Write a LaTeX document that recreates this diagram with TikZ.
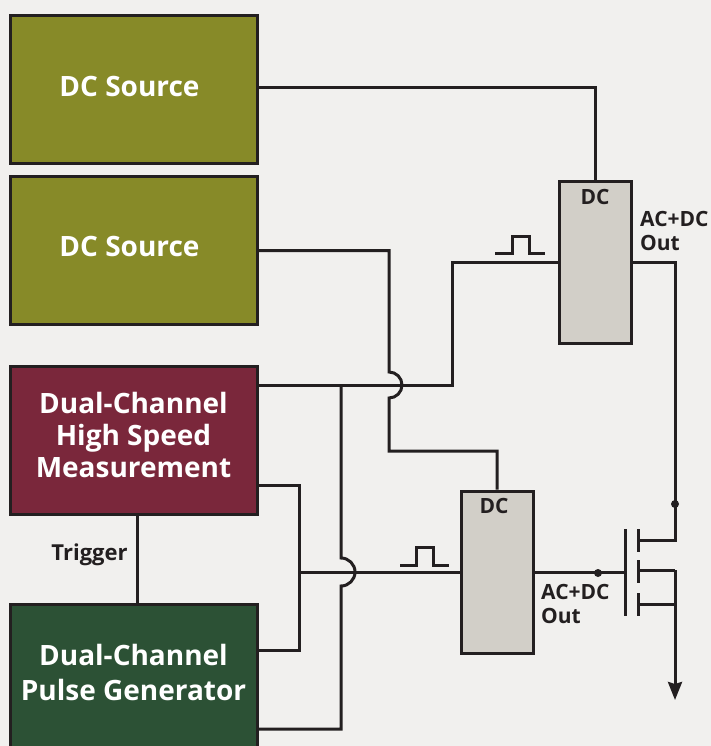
\documentclass[tikz,border=0pt]{standalone}
\usepackage{fontspec}
\setmainfont{Open Sans}
\usetikzlibrary{arrows.meta}
\definecolor{pagebg}{HTML}{F1F0EE}
\definecolor{inkline}{HTML}{231F20}
\definecolor{olivebox}{HTML}{878A28}
\definecolor{maroonbox}{HTML}{7A273B}
\definecolor{greenbox}{HTML}{2C5135}
\definecolor{greybox}{HTML}{D2CFC8}

\begin{document}
\begin{tikzpicture}
[
    x=1pt, y=1pt,
    wire/.style={draw=inkline, line width=3pt, line join=miter},
    block/.style={draw=inkline, line width=3pt, minimum width=247pt, inner sep=0pt,
        align=center, text=white, font=\fontsize{28}{32}\selectfont\bfseries},
    biasbox/.style={draw=inkline, fill=greybox, line width=3pt, minimum width=72pt, minimum height=162pt},
    tag/.style={text=inkline, inner sep=0pt, align=left, font=\fontsize{21}{24}\selectfont\bfseries},
    dot/.style={circle, fill=inkline, inner sep=0pt, minimum size=8pt},
]
\fill [pagebg] (0,-746) rectangle (711,0);
\useasboundingbox (0,-746) rectangle (711,0);
\clip (0,-746) rectangle (711,0);

% blocks on the left
\node [block, fill=olivebox, minimum height=148pt, text depth=8pt] (srcA) at (133.5,-90) {DC Source\hspace*{8pt}};
\node [block, fill=olivebox, minimum height=147pt, text depth=8pt] (srcB) at (133.5,-250.5) {DC Source\hspace*{8pt}};
\node [block, fill=maroonbox, minimum height=148pt, text depth=10pt] (meas) at (133.5,-440) {Dual-Channel\\High Speed\\Measurement};
\node [block, fill=greenbox, minimum height=193pt, text depth=56pt, font=\fontsize{28}{35}\selectfont\bfseries] (pgen) at (133.5,-700.5) {Dual-Channel\\Pulse Generator};

% bias tees
\node [biasbox] (biasA) at (595,-262) {};
\node [biasbox] (biasB) at (497,-572) {};
\node [tag] (dcA) at (595,-197) {DC};
\node [tag] (dcB) at (494,-506) {DC};
\node [tag, anchor=west] (outA) at (640,-231) {AC+DC\\Out};
\node [tag, anchor=west] (outB) at (541,-604) {AC+DC\\Out};
\node [tag, font=\fontsize{22}{24}\selectfont\bfseries] (trig) at (89.5,-555) {Trigger};

% junctions
\coordinate (topA) at (595,-88);
\coordinate (hopA) at (389,-385);
\coordinate (hopB) at (341,-572);
\coordinate (midB) at (497,-451);
\coordinate (riseA) at (452,-385);
\coordinate (tapA) at (341,-385);
\coordinate (feedB) at (299,-572);
\coordinate (tapM) at (299,-485);
\coordinate (tapP) at (299,-650);
\coordinate (lowP) at (341,-729);
\coordinate (trigT) at (137,-514);
\coordinate (trigB) at (137,-604);
\coordinate (drain) at (675,-540);
\coordinate (gate) at (625,-572);
\coordinate (gateT) at (625,-529);
\coordinate (gateB) at (625,-616);
\coordinate (srcT) at (675,-570);
\coordinate (srcL) at (675,-604);
\coordinate (tail) at (675,-700);

% wires
\draw [wire] (srcA.east |- topA) -- (topA) -- (biasA.north);
\draw [wire] (srcB.east) -| ([yshift=13pt]hopA.center) arc[start angle=90, end angle=-90, radius=13] -- ([yshift=-13pt]hopA.center) |- (midB) -- (biasB.north);
\draw [wire] (meas.east |- riseA) -- (riseA) |- (biasA.west);
\draw [wire] (tapA) -- ([yshift=14pt]hopB.center) arc[start angle=90, end angle=-90, radius=14] -- ([yshift=-14pt]hopB.center) -- (lowP) -- (pgen.east |- lowP);
\draw [wire] (meas.east |- tapM) -- (tapM) -- (tapP) -- (pgen.east |- tapP);
\draw [wire] (feedB) -- (biasB.west);
\draw [wire] (trigT) -- (trigB);

% pulses
\draw [wire] (495,-253) -- ++(17,0) -- ++(0,17) -- ++(17,0) -- ++(0,-17) -- ++(16,0);
\draw [wire] (400,-565) -- ++(16,0) -- ++(0,18) -- ++(17,0) -- ++(0,-18) -- ++(16,0);

% transistor
\draw [wire] (biasA.east) -| (drain) -- (638,-540);
\draw [wire] (biasB.east) -- (gate);
\draw [wire] (gateT) -- (gateB);
\draw [wire] (638,-529) -- (638,-552);
\draw [wire] (638,-560) -- (638,-583);
\draw [wire] (638,-593) -- (638,-616);
\draw [wire] (638,-570) -- (srcT);
\draw [wire] (638,-604) -- (srcL);
\draw [wire, -{Stealth[length=18pt, width=14pt, inset=2pt]}] (srcT) -- (tail);
\node [dot] (nodeD) at (675,-504) {};
\node [dot] (nodeG) at (598,-573) {};
\end{tikzpicture}
\end{document}
